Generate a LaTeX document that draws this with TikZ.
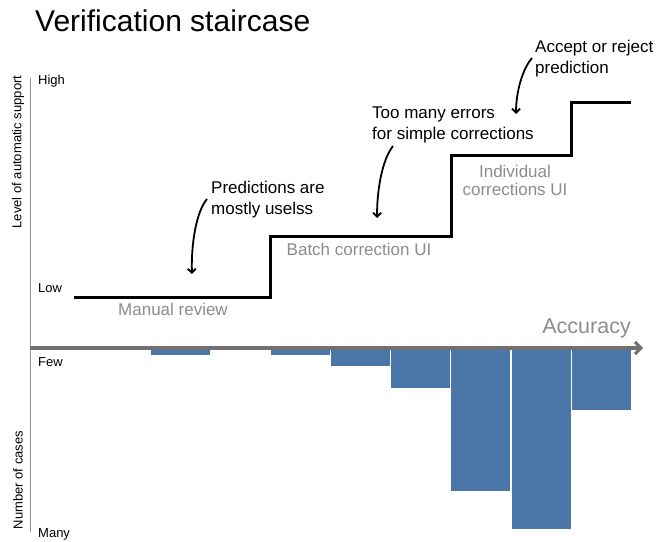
\documentclass[tikz,border=0pt]{standalone}
\usepackage{fontspec}
\setmainfont{Liberation Sans}
\usetikzlibrary{arrows.meta}
\definecolor{barblue}{RGB}{74,119,168}
\definecolor{lblgray}{RGB}{140,140,140}
\definecolor{axisgray}{RGB}{112,112,112}
\definecolor{vaxis}{RGB}{150,150,150}
\begin{document}
\begin{tikzpicture}[x=1pt,y=-1pt,
  ticklbl/.style={anchor=base west,inner sep=0pt,font=\fontsize{13}{15}\selectfont},
  axtitle/.style={rotate=90,inner sep=0pt,font=\fontsize{13}{15}\selectfont},
  annot/.style={anchor=base west,inner sep=0pt,align=left,font=\fontsize{17}{21}\selectfont},
  stairlbl/.style={inner sep=0pt,text=lblgray,font=\fontsize{17}{18}\selectfont},
  bar/.style={fill=barblue,draw=none},
  callout/.style={line width=1.8pt,-{Straight Barb[length=4pt,width=8pt,line width=1.8pt]}},
  stair/.style={line width=3pt,line join=miter}]
\useasboundingbox (0,0) rectangle (669,541);
% title
\node[anchor=base west,inner sep=0pt,font=\fontsize{30}{32}\selectfont] (title) at (35,31) {Verification staircase};
% bars
\draw[bar] (151,349) rectangle (210,355) node[coordinate] (b1) {};
\draw[bar] (271,349) rectangle (330,355) node[coordinate] (b2) {};
\draw[bar] (331,349) rectangle (390,366) node[coordinate] (b3) {};
\draw[bar] (391,349) rectangle (450,388) node[coordinate] (b4) {};
\draw[bar] (451,349) rectangle (510,491) node[coordinate] (b5) {};
\draw[bar] (512,349) rectangle (571,529) node[coordinate] (b6) {};
\draw[bar] (572,349) rectangle (631,410) node[coordinate] (b7) {};
% axes
\coordinate (vtop) at (30.5,78);
\coordinate (vbot) at (30.5,532);
\coordinate (hl) at (30,348);
\coordinate (hr) at (643,348);
\draw[vaxis,line width=1.5pt] (vtop) -- (vbot);
\draw[axisgray,line width=3.5pt,-{Straight Barb[length=6pt,width=12pt,line width=3pt]}] (hl) -- (hr);
% axis labels
\node[ticklbl] (high) at (38,84) {High};
\node[ticklbl] (low) at (38,292) {Low};
\node[ticklbl] (few) at (38,366) {Few};
\node[ticklbl] (many) at (38,537) {Many};
\node[axtitle] (ylab1) at (18,152) {Level of automatic support};
\node[axtitle] (ylab2) at (18,480) {Number of cases};
\node[anchor=base east,inner sep=0pt,text=lblgray,font=\fontsize{21.5}{23}\selectfont] (acc) at (631,333) {Accuracy};
% staircase
\coordinate (s0) at (74,297.5);
\coordinate (s1) at (270,297.5);
\coordinate (s2) at (270,236);
\coordinate (s3) at (451,236);
\coordinate (s4) at (451,155);
\coordinate (s5) at (571,155);
\coordinate (s6) at (571,102);
\coordinate (s7) at (631,102);
\draw[stair] (s0) -- (s1) -- (s2) -- (s3) -- (s4) -- (s5) -- (s6) -- (s7);
% stair labels
\node[stairlbl,anchor=base] (manual) at (173,315) {Manual review};
\node[stairlbl,anchor=base] (batch) at (359,255) {Batch correction UI};
\node[stairlbl,anchor=base,align=center] (indiv) at (515,195) {Individual\\corrections UI};
% annotations
\node[annot] (a1) at (211,214) {Predictions are\\mostly uselss};
\node[annot] (a2) at (372,139) {Too many errors\\for simple corrections};
\node[annot] (a3) at (535,73) {Accept or reject\\prediction};
\coordinate (c1s) at (207,199);
\coordinate (c1e) at (192,274);
\coordinate (c2s) at (393,146);
\coordinate (c2e) at (377,218);
\coordinate (c3s) at (532,58);
\coordinate (c3e) at (516,114);
\draw[callout] (c1s) .. controls (196,212) and (191,245) .. (c1e);
\draw[callout] (c2s) .. controls (382,160) and (377,190) .. (c2e);
\draw[callout] (c3s) .. controls (521,71) and (516,95) .. (c3e);
\end{tikzpicture}
\end{document}
